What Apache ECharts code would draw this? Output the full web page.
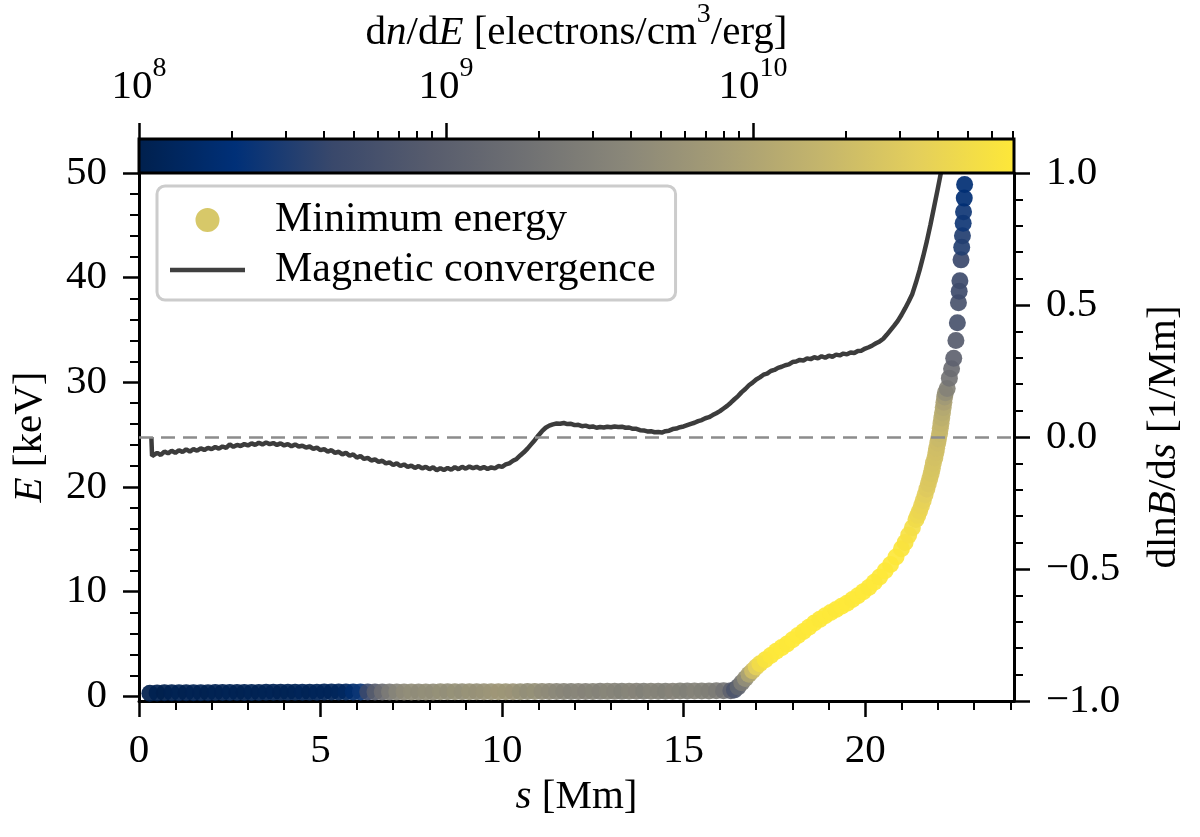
<!DOCTYPE html>
<html>
<head>
<meta charset="utf-8">
<script src="https://cdn.jsdelivr.net/npm/echarts@6/dist/echarts.min.js"></script>
<style>html,body{margin:0;padding:0;background:#fff}#c{width:1200px;height:837px}</style>
</head>
<body>
<div id="c"></div>
<script>
const FONT = 'Liberation Serif';

// ---------- axis settings (data units) ----------
const sRange = [0, 24.1];
const eRange = [-0.45, 50];
const convRange = [-1, 1];
const logDnDERange = [8, 10.85];          // colour bar: log10(dn/dE)
const sMajorTicks = [0, 5, 10, 15, 20];
const sMinorTicks = [1, 2, 3, 4, 6, 7, 8, 9, 11, 12, 13, 14, 16, 17, 18, 19, 21, 22, 23, 24];
const eMajorTicks = [0, 10, 20, 30, 40, 50];
const eMinorTicks = [2, 4, 6, 8, 12, 14, 16, 18, 22, 24, 26, 28, 32, 34, 36, 38, 42, 44, 46, 48];
const cbarMajorExp = [8, 9, 10];
const cbarMinorMantissa = [2, 3, 4, 5, 6, 7, 8, 9];

// cividis colour map
const cividis = ['#00204d', '#003078', '#39486b', '#575c6d', '#707173', '#8a8779', '#a69d75', '#c4b56c', '#e4cf5b', '#fee838'];

// ---------- Minimum energy (scatter) ----------
const minS = [
  0.3, 0.5, 0.7, 0.9, 1.1, 1.3, 1.5, 1.7, 1.9, 2.1, 2.3, 2.5, 2.7, 2.9, 3.1, 3.3, 3.5, 3.7, 3.9, 4.1,
  4.3, 4.5, 4.7, 4.9, 5.1, 5.3, 5.5, 5.7, 5.9, 6.1, 6.3, 6.5, 6.7, 6.9, 7.1, 7.3, 7.5, 7.7, 7.9, 8.1,
  8.3, 8.5, 8.7, 8.9, 9.1, 9.3, 9.5, 9.7, 9.9, 10.1, 10.3, 10.5, 10.7, 10.9, 11.1, 11.3, 11.5, 11.7, 11.9, 12.1,
  12.3, 12.5, 12.7, 12.9, 13.1, 13.3, 13.5, 13.7, 13.9, 14.1, 14.3, 14.5, 14.7, 14.9, 15.1, 15.3, 15.5, 15.7, 15.9, 16.1,
  16.3,
  16.4, 16.5, 16.6, 16.7, 16.8, 16.9, 17.0, 17.1, 17.25, 17.4, 17.55, 17.7, 17.85, 18.0, 18.15, 18.3, 18.45, 18.6, 18.75, 18.9,
  19.05, 19.2, 19.35, 19.5, 19.65, 19.8, 19.95, 20.1, 20.25, 20.4, 20.55, 20.7, 20.85, 21.0, 21.1, 21.2, 21.3, 21.4, 21.45, 21.5,
  21.55, 21.6, 21.65, 21.7, 21.74, 21.78, 21.82, 21.85, 21.88, 21.92, 21.95, 21.97, 22.0, 22.02, 22.05, 22.07, 22.09, 22.11, 22.13, 22.15,
  22.17, 22.19, 22.21,
  22.26, 22.32, 22.38, 22.44, 22.50, 22.54, 22.57, 22.59, 22.61, 22.64, 22.66, 22.68, 22.70, 22.71, 22.73, 22.74, 22.76
];
const minE = [
  0.30, 0.32, 0.33, 0.33, 0.34, 0.34, 0.35, 0.35, 0.35, 0.36, 0.36, 0.36, 0.37, 0.37, 0.37, 0.37, 0.38, 0.38, 0.38, 0.38,
  0.39, 0.39, 0.39, 0.39, 0.40, 0.40, 0.40, 0.40, 0.40, 0.41, 0.41, 0.41, 0.41, 0.41, 0.42, 0.42, 0.42, 0.42, 0.42, 0.42,
  0.43, 0.43, 0.43, 0.43, 0.43, 0.43, 0.44, 0.44, 0.44, 0.44, 0.44, 0.44, 0.45, 0.45, 0.45, 0.45, 0.45, 0.46, 0.46, 0.46,
  0.46, 0.46, 0.47, 0.47, 0.47, 0.47, 0.48, 0.48, 0.48, 0.48, 0.49, 0.49, 0.49, 0.50, 0.50, 0.50, 0.51, 0.51, 0.52, 0.52,
  0.53,
  0.6, 0.9, 1.3, 1.7, 2.1, 2.45, 2.8, 3.1, 3.5, 3.9, 4.3, 4.65, 5.0, 5.4, 5.8, 6.2, 6.6, 7.0, 7.35, 7.7,
  8.0, 8.3, 8.6, 8.9, 9.25, 9.6, 10.0, 10.4, 10.9, 11.4, 12.0, 12.6, 13.3, 14.1, 14.7, 15.4, 16.1, 16.9, 17.3, 17.7,
  18.2, 18.7, 19.25, 19.8, 20.3, 20.8, 21.3, 21.8, 22.3, 22.8, 23.3, 23.7, 24.2, 24.6, 25.1, 25.6, 26.1, 26.6, 27.1, 27.6,
  28.1, 28.6, 29.0,
  29.4, 30.4, 31.3, 32.3, 34.0, 35.7, 37.6, 38.7, 39.7, 41.7, 42.9, 44.0, 45.2, 46.3, 47.6, 48.9, 50.3
];
// dn/dE [electrons/cm^3/erg] at the minimum energy
const minDnDE = [
  1.0e8, 1.05e8, 1.0e8, 1.05e8, 1.1e8, 1.05e8, 1.1e8, 1.1e8, 1.05e8, 1.1e8, 1.1e8, 1.15e8, 1.1e8, 1.1e8, 1.15e8, 1.1e8, 1.15e8, 1.15e8, 1.1e8, 1.15e8,
  1.15e8, 1.2e8, 1.15e8, 1.2e8, 1.2e8, 1.2e8, 1.25e8, 1.35e8, 1.7e8, 2.4e8, 4.5e8, 9e8, 1.6e9, 2.6e9, 3.5e9, 4.2e9, 4.6e9, 4.4e9, 4.9e9, 4.6e9,
  5.1e9, 4.8e9, 5.3e9, 5.0e9, 5.5e9, 5.2e9, 5.6e9, 6.0e9, 6.4e9, 6.2e9, 5.9e9, 5.3e9, 4.8e9, 5.1e9, 4.5e9, 4.2e9, 3.9e9, 3.6e9, 3.4e9, 3.7e9,
  3.3e9, 3.5e9, 3.2e9, 3.6e9, 3.4e9, 3.1e9, 3.5e9, 3.3e9, 3.0e9, 3.4e9, 3.2e9, 3.0e9, 3.3e9, 3.1e9, 2.9e9, 3.2e9, 3.0e9, 2.8e9, 2.6e9, 2.0e9,
  1.1e9,
  7e8, 1.2e9, 2.5e9, 5e9, 1.0e10, 2.0e10, 3.5e10, 5.0e10, 6.2e10, 6.7e10, 6.9e10, 7.0e10, 6.9e10, 7.0e10, 7.0e10, 6.9e10, 7.0e10, 7.0e10, 6.9e10, 7.0e10,
  7.0e10, 6.9e10, 7.0e10, 7.0e10, 6.9e10, 7.0e10, 7.0e10, 6.9e10, 7.0e10, 6.9e10, 7.0e10, 6.9e10, 6.8e10, 6.5e10, 6.2e10, 5.8e10, 5.3e10, 4.8e10, 4.5e10, 4.2e10,
  3.9e10, 3.6e10, 3.3e10, 3.0e10, 2.8e10, 2.7e10, 2.6e10, 2.5e10, 2.4e10, 2.3e10, 2.2e10, 2.1e10, 2.0e10, 1.9e10, 1.8e10, 1.7e10, 1.55e10, 1.4e10, 1.25e10, 1.1e10,
  9e9, 7e9, 5e9,
  3.2e9, 2.0e9, 1.6e9, 1.1e9, 8.7e8, 6.3e8, 6.3e8, 4.8e8, 4.8e8, 4.3e8, 3.2e8, 3.2e8, 2.5e8, 2.5e8, 1.9e8, 1.9e8, 1.6e8
];

// ---------- Magnetic convergence dlnB/ds [1/Mm] ----------
const convergence = [
  [0.34, 0.000], [0.36, -0.072], [0.4, -0.068], [0.5, -0.060], [0.6, -0.068], [0.7, -0.055], [0.8, -0.062], [0.9, -0.052],
  [1.0, -0.060], [1.1, -0.050], [1.2, -0.057], [1.3, -0.047], [1.4, -0.055], [1.5, -0.046], [1.6, -0.052], [1.7, -0.043],
  [1.8, -0.049], [1.9, -0.041], [2.0, -0.046], [2.1, -0.038], [2.2, -0.044], [2.3, -0.036], [2.4, -0.041], [2.5, -0.028],
  [2.6, -0.037], [2.7, -0.030], [2.8, -0.034], [2.9, -0.027], [3.0, -0.032], [3.1, -0.024], [3.2, -0.030], [3.3, -0.022],
  [3.4, -0.028], [3.5, -0.021], [3.6, -0.027], [3.7, -0.023], [3.8, -0.030], [3.9, -0.024], [4.0, -0.032], [4.1, -0.027],
  [4.2, -0.035], [4.3, -0.028], [4.4, -0.036], [4.5, -0.033], [4.6, -0.040], [4.7, -0.036], [4.8, -0.045], [4.9, -0.040],
  [5.0, -0.050], [5.1, -0.046], [5.2, -0.055], [5.3, -0.050], [5.4, -0.060], [5.5, -0.056], [5.6, -0.066], [5.7, -0.060],
  [5.8, -0.071], [5.9, -0.066], [6.0, -0.078], [6.1, -0.072], [6.2, -0.083], [6.3, -0.079], [6.4, -0.089], [6.5, -0.085],
  [6.6, -0.094], [6.7, -0.090], [6.8, -0.100], [6.9, -0.096], [7.0, -0.106], [7.1, -0.100], [7.2, -0.110], [7.3, -0.104],
  [7.4, -0.113], [7.5, -0.108], [7.6, -0.117], [7.7, -0.110], [7.8, -0.119], [7.9, -0.113], [8.0, -0.122], [8.1, -0.115],
  [8.2, -0.126], [8.3, -0.118], [8.4, -0.125], [8.5, -0.117], [8.6, -0.124], [8.7, -0.114], [8.8, -0.122], [8.9, -0.113],
  [9.0, -0.120], [9.1, -0.112], [9.2, -0.118], [9.3, -0.113], [9.4, -0.120], [9.5, -0.114], [9.6, -0.121], [9.7, -0.115],
  [9.8, -0.119], [9.9, -0.110], [10.0, -0.113], [10.1, -0.104], [10.2, -0.100], [10.3, -0.090], [10.4, -0.083], [10.5, -0.070],
  [10.6, -0.058], [10.7, -0.044], [10.8, -0.028], [10.9, -0.012], [11.0, 0.006], [11.1, 0.022], [11.2, 0.035], [11.3, 0.043],
  [11.4, 0.048], [11.5, 0.051], [11.6, 0.050], [11.7, 0.053], [11.8, 0.049], [11.9, 0.050], [12.0, 0.045], [12.1, 0.046],
  [12.2, 0.041], [12.3, 0.043], [12.4, 0.038], [12.5, 0.040], [12.6, 0.035], [12.7, 0.038], [12.8, 0.036], [12.9, 0.039],
  [13.0, 0.037], [13.1, 0.040], [13.2, 0.038], [13.3, 0.039], [13.4, 0.035], [13.5, 0.036], [13.6, 0.031], [13.7, 0.031],
  [13.8, 0.026], [13.9, 0.025], [14.0, 0.021], [14.1, 0.022], [14.2, 0.018], [14.3, 0.019], [14.4, 0.017], [14.5, 0.022],
  [14.6, 0.024], [14.7, 0.030], [14.8, 0.032], [14.9, 0.037], [15.0, 0.040], [15.1, 0.045], [15.2, 0.050], [15.3, 0.054],
  [15.4, 0.060], [15.5, 0.064], [15.6, 0.071], [15.7, 0.075], [15.8, 0.083], [15.9, 0.090], [16.0, 0.098], [16.1, 0.108],
  [16.2, 0.118], [16.3, 0.130], [16.4, 0.143], [16.5, 0.155], [16.6, 0.170], [16.7, 0.182], [16.8, 0.196], [16.9, 0.206],
  [17.0, 0.218], [17.1, 0.226], [17.2, 0.236], [17.3, 0.240], [17.4, 0.250], [17.5, 0.254], [17.6, 0.262], [17.7, 0.266],
  [17.8, 0.272], [17.9, 0.275], [18.0, 0.284], [18.1, 0.286], [18.2, 0.292], [18.3, 0.290], [18.4, 0.298], [18.5, 0.295],
  [18.6, 0.302], [18.7, 0.298], [18.8, 0.306], [18.9, 0.300], [19.0, 0.308], [19.1, 0.304], [19.2, 0.312], [19.3, 0.309],
  [19.4, 0.316], [19.5, 0.313], [19.6, 0.320], [19.7, 0.318], [19.8, 0.326], [19.9, 0.327], [20.0, 0.335], [20.1, 0.340],
  [20.2, 0.347], [20.3, 0.355], [20.4, 0.362], [20.5, 0.372], [20.6, 0.388], [20.7, 0.405], [20.8, 0.422], [20.9, 0.440],
  [21.0, 0.462], [21.1, 0.487], [21.2, 0.513], [21.3, 0.542], [21.4, 0.585], [21.5, 0.632], [21.6, 0.685], [21.7, 0.742],
  [21.8, 0.805], [21.9, 0.872], [22.0, 0.940], [22.1, 1.010], [22.2, 1.080]
];

// ---------- build ----------
const nPts = Math.min(minS.length, minE.length, minDnDE.length);
const scatterData = [];
for (let i = 0; i < nPts; i++) scatterData.push([minS[i], minE[i], Math.log10(minDnDE[i])]);

const cbarMinorTicks = [];
cbarMajorExp.forEach(e => cbarMinorMantissa.forEach(m => {
  const v = e + Math.log10(m);
  if (v <= logDnDERange[1]) cbarMinorTicks.push(v);
}));

const gradientStops = cividis.map((c, i) => ({offset: i / (cividis.length - 1), color: c}));

const txt = {fontFamily: FONT, fontSize: 41, color: '#000'};
const richBase = {
  i: {fontFamily: FONT, fontSize: 41, fontStyle: 'italic', color: '#000'},
  t: {fontFamily: FONT, fontSize: 41, color: '#000'}
};
const supRich = {
  b: {fontFamily: FONT, fontSize: 41, color: '#000', lineHeight: 53, verticalAlign: 'bottom'},
  i: {fontFamily: FONT, fontSize: 41, fontStyle: 'italic', color: '#000', lineHeight: 53, verticalAlign: 'bottom'},
  sup: {fontFamily: FONT, fontSize: 28, color: '#000', lineHeight: 28, verticalAlign: 'top'}
};
const tickStyle = {color: '#000', width: 2.5};
const minorStyle = {color: '#000', width: 2};
const axisLineStyle = {show: true, onZero: false, lineStyle: {color: '#000', width: 3}};

const chart = echarts.init(document.getElementById('c'), null, {renderer: 'canvas'});
chart.setOption({
  animation: false,
  backgroundColor: '#fff',
  textStyle: {fontFamily: FONT},
  grid: [
    {left: 139, right: 186, top: 173, bottom: 136},
    {left: 139, right: 186, top: 137, height: 36}
  ],
  xAxis: [
    { // main s axis
      type: 'value', gridIndex: 0, position: 'bottom', min: sRange[0], max: sRange[1],
      axisLine: axisLineStyle,
      axisTick: {show: true, inside: false, length: 16, lineStyle: tickStyle, customValues: sMajorTicks},
      axisLabel: Object.assign({show: true, margin: 30, customValues: sMajorTicks}, txt),
      splitLine: {show: false},
      name: '{i|s} [Mm]', nameLocation: 'middle', nameGap: 73,
      nameTextStyle: Object.assign({rich: richBase}, txt)
    },
    { // minor ticks of s axis
      type: 'value', gridIndex: 0, position: 'bottom', min: sRange[0], max: sRange[1],
      axisLine: {show: false, onZero: false},
      axisTick: {show: true, inside: false, length: 9, lineStyle: minorStyle, customValues: sMinorTicks},
      axisLabel: {show: false}, splitLine: {show: false}
    },
    { // colour bar axis (log10 dn/dE)
      type: 'value', gridIndex: 1, position: 'top', min: logDnDERange[0], max: logDnDERange[1],
      axisLine: {show: false, onZero: false},
      axisTick: {show: true, inside: false, length: 16, lineStyle: tickStyle, customValues: cbarMajorExp},
      axisLabel: {
        show: true, margin: 31, customValues: cbarMajorExp,
        formatter: v => '{b|10}{sup|' + Math.round(v) + '}',
        rich: supRich
      },
      splitLine: {show: false},
      name: '{b|d}{i|n}{b|/d}{i|E}{b| [electrons/cm}{sup|3}{b|/erg]}',
      nameLocation: 'middle', nameGap: 65,
      nameTextStyle: Object.assign({rich: supRich}, txt)
    },
    { // colour bar minor ticks
      type: 'value', gridIndex: 1, position: 'top', min: logDnDERange[0], max: logDnDERange[1],
      axisLine: {show: false, onZero: false},
      axisTick: {show: true, inside: false, length: 8, lineStyle: minorStyle, customValues: cbarMinorTicks},
      axisLabel: {show: false}, splitLine: {show: false}
    }
  ],
  yAxis: [
    { // E axis
      type: 'value', gridIndex: 0, position: 'left', min: eRange[0], max: eRange[1],
      axisLine: axisLineStyle,
      axisTick: {show: true, inside: false, length: 16, lineStyle: tickStyle, customValues: eMajorTicks},
      axisLabel: Object.assign({show: true, margin: 32, customValues: eMajorTicks}, txt),
      splitLine: {show: false},
      name: '{i|E} [keV]', nameLocation: 'middle', nameRotate: 90, nameGap: 88,
      nameTextStyle: Object.assign({rich: richBase}, txt)
    },
    { // E minor ticks
      type: 'value', gridIndex: 0, position: 'left', min: eRange[0], max: eRange[1],
      axisLine: {show: false, onZero: false},
      axisTick: {show: true, inside: false, length: 9, lineStyle: minorStyle, customValues: eMinorTicks},
      axisLabel: {show: false}, splitLine: {show: false}
    },
    { // dlnB/ds axis
      type: 'value', gridIndex: 0, position: 'right', min: convRange[0], max: convRange[1], interval: 0.5,
      axisLine: axisLineStyle,
      axisTick: {show: true, inside: false, length: 16, lineStyle: tickStyle},
      minorTick: {show: true, splitNumber: 5, length: 9, lineStyle: minorStyle},
      axisLabel: Object.assign({show: true, margin: 32,
        formatter: v => (v < 0 ? '\u2212' : '') + Math.abs(v).toFixed(1)}, txt),
      splitLine: {show: false}, minorSplitLine: {show: false},
      name: 'dln{i|B}/d{i|s} [1/Mm]', nameLocation: 'middle', nameRotate: 90, nameGap: 130,
      nameTextStyle: Object.assign({rich: richBase}, txt)
    },
    { // colour bar y (hidden)
      type: 'value', gridIndex: 1, min: 0, max: 1, show: false
    }
  ],
  visualMap: {
    type: 'continuous', show: false, seriesIndex: 1, dimension: 2,
    min: logDnDERange[0], max: logDnDERange[1],
    inRange: {color: cividis}
  },
  legend: {
    left: 157, top: 186, orient: 'vertical',
    padding: [13, 20, 9, 13], itemGap: 8, itemWidth: 75, itemHeight: 26,
    borderColor: '#cccccc', borderWidth: 3, borderRadius: 8,
    backgroundColor: 'rgba(255,255,255,0.85)', selectedMode: false,
    textStyle: {fontFamily: FONT, fontSize: 42, color: '#000', padding: [0, 0, 0, 25]},
    data: [
      {name: 'Minimum energy',
       icon: 'path://M0,13h0.01M75,13h0.01M25.5,13a12,12 0 1,0 24,0a12,12 0 1,0 -24,0z',
       itemStyle: {color: '#d4c35c', borderWidth: 0}},
      {name: 'Magnetic convergence',
       icon: 'path://M0,0h0.01M0,26h0.01M0,10.75h75v4.5h-75z',
       itemStyle: {color: '#404040', borderWidth: 0}}
    ]
  },
  series: [
    { // colour bar
      type: 'custom', xAxisIndex: 2, yAxisIndex: 3, silent: true, clip: false,
      data: [[logDnDERange[0], logDnDERange[1], 0, 1]],
      encode: {x: [0, 1], y: [2, 3]},
      renderItem: (params, api) => {
        const p0 = api.coord([api.value(0), api.value(2)]);
        const p1 = api.coord([api.value(1), api.value(3)]);
        return {
          type: 'rect',
          shape: {x: p0[0], y: p1[1], width: p1[0] - p0[0], height: p0[1] - p1[1]},
          style: {
            fill: {type: 'linear', x: 0, y: 0, x2: 1, y2: 0, colorStops: gradientStops},
            stroke: '#000', lineWidth: 3
          }
        };
      },
      z: 3
    },
    {
      name: 'Minimum energy', type: 'scatter', xAxisIndex: 0, yAxisIndex: 0,
      data: scatterData, symbol: 'circle', symbolSize: 17, clip: true,
      itemStyle: {opacity: 0.92},
      z: 2
    },
    {
      name: 'Magnetic convergence', type: 'line', xAxisIndex: 0, yAxisIndex: 2,
      data: convergence, showSymbol: false, symbol: 'none', clip: true,
      lineStyle: {color: '#3c3c3c', width: 4.5},
      itemStyle: {color: '#404040'},
      markLine: {
        silent: true, symbol: ['none', 'none'], label: {show: false},
        lineStyle: {color: '#8c8c8c', type: [14, 8], width: 2.5},
        data: [{yAxis: 0}]
      },
      z: 2
    }
  ]
});
</script>
</body>
</html>
